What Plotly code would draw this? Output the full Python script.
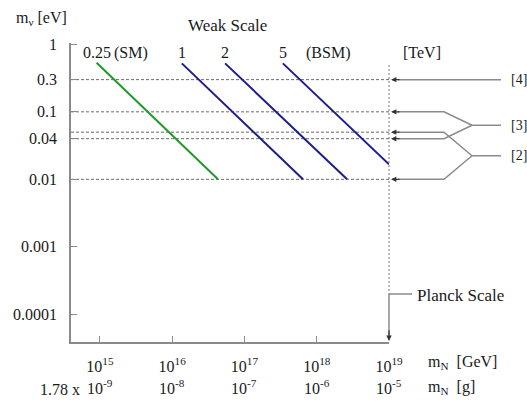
import math
import plotly.graph_objects as go

# ---------------- data ----------------
weak_scale_tev = [0.25, 1, 2, 5]
weak_labels = ["0.25", "1", "2", "5"]
line_colors = ["#1f9a2a", "#1c1c8c", "#1c1c8c", "#1c1c8c"]
line_start_mN = [9.0e14, 1.36e16, 5.4e16, 3.4e17]      # GeV
line_start_mnu = [0.535, 0.523, 0.523, 0.523]          # eV
line_end_mN = [4.3e16, 6.45e17, 2.63e18, 1.0e19]       # GeV
line_end_mnu = [0.01, 0.01, 0.01, 0.0167]              # eV

ref_levels = [0.3, 0.1, 0.05, 0.04, 0.01]              # eV, dashed lines
ref_groups = {"[4]": [0.3], "[3]": [0.1, 0.04], "[2]": [0.05, 0.01]}

y_tickvals = [1, 0.3, 0.1, 0.04, 0.01, 0.001, 0.0001]
y_ticktext = ["1", "0.3", "0.1", "0.04", "0.01", "0.001", "0.0001"]
mN_gev_exp = [15, 16, 17, 18, 19]
mN_g_exp = [-9, -8, -7, -6, -5]
planck_mN = 1.0e19

# ---------------- layout constants ----------------
W, H = 527, 402
L, R, T, B = 71, 389, 43, 342
XR = [14.6, 19.0]
YR = [-4.41, 0.02]
FONT = "'Liberation Serif', 'Times New Roman', Times, serif"
TXT = "#1a1a1a"
GRAY = "#8a8a8a"


def px_x(pix):
    return (pix - L) / (R - L)


def px_y(pix):
    return (B - pix) / (B - T)


def dx(v):
    return (math.log10(v) - XR[0]) / (XR[1] - XR[0])


def dy(v):
    return (math.log10(v) - YR[0]) / (YR[1] - YR[0])


def y_pix(v):
    return B - dy(v) * (B - T)


def f(size):
    return dict(family=FONT, size=size, color=TXT)


fig = go.Figure()

# dashed reference levels
for lv in ref_levels:
    fig.add_trace(go.Scatter(
        x=[10 ** XR[0], planck_mN], y=[lv, lv], mode="lines",
        line=dict(color="#6a6a6a", width=1, dash="3px,2px"),
        hoverinfo="skip", showlegend=False))

# seesaw lines
for i in range(len(weak_scale_tev)):
    fig.add_trace(go.Scatter(
        x=[line_start_mN[i], line_end_mN[i]],
        y=[line_start_mnu[i], line_end_mnu[i]],
        mode="lines", line=dict(color=line_colors[i], width=2),
        hoverinfo="skip", showlegend=False))

shapes = []
annotations = []

# vertical dotted line at Planck mass
shapes.append(dict(type="line", xref="paper", yref="paper",
                   x0=dx(planck_mN), x1=dx(planck_mN),
                   y0=px_y(65), y1=px_y(294),
                   line=dict(color="#777777", width=1, dash="2px,2px")))
# Planck bracket
shapes.append(dict(type="line", xref="paper", yref="paper",
                   x0=dx(planck_mN), x1=dx(planck_mN),
                   y0=px_y(294), y1=px_y(336),
                   line=dict(color=GRAY, width=1.5)))
shapes.append(dict(type="line", xref="paper", yref="paper",
                   x0=dx(planck_mN), x1=px_x(412),
                   y0=px_y(294), y1=px_y(294),
                   line=dict(color=GRAY, width=1.5)))
annotations.append(dict(xref="paper", yref="paper", x=dx(planck_mN), y=px_y(341),
                        ax=0, ay=-12, text="", showarrow=True, arrowhead=2,
                        arrowsize=0.9, arrowwidth=1.2, arrowcolor="#333333"))
annotations.append(dict(xref="paper", yref="paper", x=px_x(415), y=px_y(295),
                        text="Planck Scale", showarrow=False, xanchor="left",
                        yanchor="middle", font=f(17)))

# right-side brackets
x_head, x_start, x_bend, x_fork, x_end = 391, 398, 444, 472, 501
for label, levels in ref_groups.items():
    ys = [y_pix(v) for v in levels]
    for yv in ys:
        annotations.append(dict(xref="paper", yref="paper", x=px_x(x_head), y=px_y(yv),
                                ax=10, ay=0, text="", showarrow=True, arrowhead=2,
                                arrowsize=0.9, arrowwidth=1.2, arrowcolor="#333333"))
    if len(ys) == 1:
        yf = ys[0]
        shapes.append(dict(type="line", xref="paper", yref="paper",
                           x0=px_x(x_start), x1=px_x(x_end), y0=px_y(yf), y1=px_y(yf),
                           line=dict(color=GRAY, width=1.5)))
    else:
        yf = sum(ys) / len(ys)
        for yv in ys:
            shapes.append(dict(type="path", xref="paper", yref="paper",
                               path="M {} {} L {} {} L {} {}".format(
                                   px_x(x_start), px_y(yv), px_x(x_bend), px_y(yv),
                                   px_x(x_fork), px_y(yf)),
                               line=dict(color=GRAY, width=1.5)))
        shapes.append(dict(type="line", xref="paper", yref="paper",
                           x0=px_x(x_fork), x1=px_x(x_end), y0=px_y(yf), y1=px_y(yf),
                           line=dict(color=GRAY, width=1.5)))
    annotations.append(dict(xref="paper", yref="paper", x=px_x(509), y=px_y(yf),
                            text=label, showarrow=False, xanchor="left", yanchor="middle",
                            font=f(14)))

# line labels (weak scale values)
lab_y = px_y(53)
for i, lbl in enumerate(weak_labels):
    annotations.append(dict(xref="paper", yref="paper", x=dx(line_start_mN[i]), y=lab_y,
                            text=lbl, showarrow=False, xanchor="center", yanchor="middle",
                            font=f(16)))
annotations.append(dict(xref="paper", yref="paper", x=px_x(112), y=lab_y, text="(SM)",
                        showarrow=False, xanchor="left", yanchor="middle", font=f(16)))
annotations.append(dict(xref="paper", yref="paper", x=px_x(304), y=lab_y, text="(BSM)",
                        showarrow=False, xanchor="left", yanchor="middle", font=f(16)))
annotations.append(dict(xref="paper", yref="paper", x=px_x(401), y=lab_y, text="[TeV]",
                        showarrow=False, xanchor="left", yanchor="middle", font=f(16)))
annotations.append(dict(xref="paper", yref="paper", x=px_x(227), y=px_y(25),
                        text="Weak Scale", showarrow=False, xanchor="center",
                        yanchor="middle", font=f(17)))
annotations.append(dict(xref="paper", yref="paper", x=px_x(41), y=px_y(18),
                        text="m<sub>ν</sub> [eV]", showarrow=False, xanchor="center",
                        yanchor="middle", font=f(16)))

# second x row: grams
for e_gev, e_g in zip(mN_gev_exp, mN_g_exp):
    annotations.append(dict(xref="paper", yref="paper", x=dx(10.0 ** e_gev), y=px_y(387),
                            text="10<sup>{}</sup>".format(e_g), showarrow=False,
                            xanchor="center", yanchor="middle", font=f(16)))
annotations.append(dict(xref="paper", yref="paper", x=px_x(60), y=px_y(390),
                        text="1.78 x", showarrow=False, xanchor="center", yanchor="middle",
                        font=f(16)))
annotations.append(dict(xref="paper", yref="paper", x=px_x(426), y=px_y(362),
                        text="m<sub>N</sub>  [GeV]", showarrow=False, xanchor="left",
                        yanchor="middle", font=f(16)))
annotations.append(dict(xref="paper", yref="paper", x=px_x(426), y=px_y(388),
                        text="m<sub>N</sub>  [g]", showarrow=False, xanchor="left",
                        yanchor="middle", font=f(16)))

fig.update_layout(
    width=W, height=H,
    margin=dict(l=L, r=W - R, t=T, b=H - B, pad=0),
    paper_bgcolor="white", plot_bgcolor="white",
    font=f(16),
    shapes=shapes, annotations=annotations,
    xaxis=dict(type="log", range=XR, showgrid=False, zeroline=False,
               showline=True, linecolor=GRAY, linewidth=1.5,
               ticks="inside", ticklen=6, tickcolor=GRAY, tickwidth=1,
               tickvals=[10.0 ** e for e in mN_gev_exp],
               ticktext=["10<sup>{}</sup>".format(e) for e in mN_gev_exp],
               tickfont=f(16), ticklabelstandoff=9),
    yaxis=dict(type="log", range=YR, showgrid=False, zeroline=False,
               showline=True, linecolor=GRAY, linewidth=1.5,
               ticks="inside", ticklen=6, tickcolor=GRAY, tickwidth=1,
               tickvals=y_tickvals, ticktext=y_ticktext,
               tickfont=f(16), ticklabelstandoff=9),
)

fig.write_html("out.html")
